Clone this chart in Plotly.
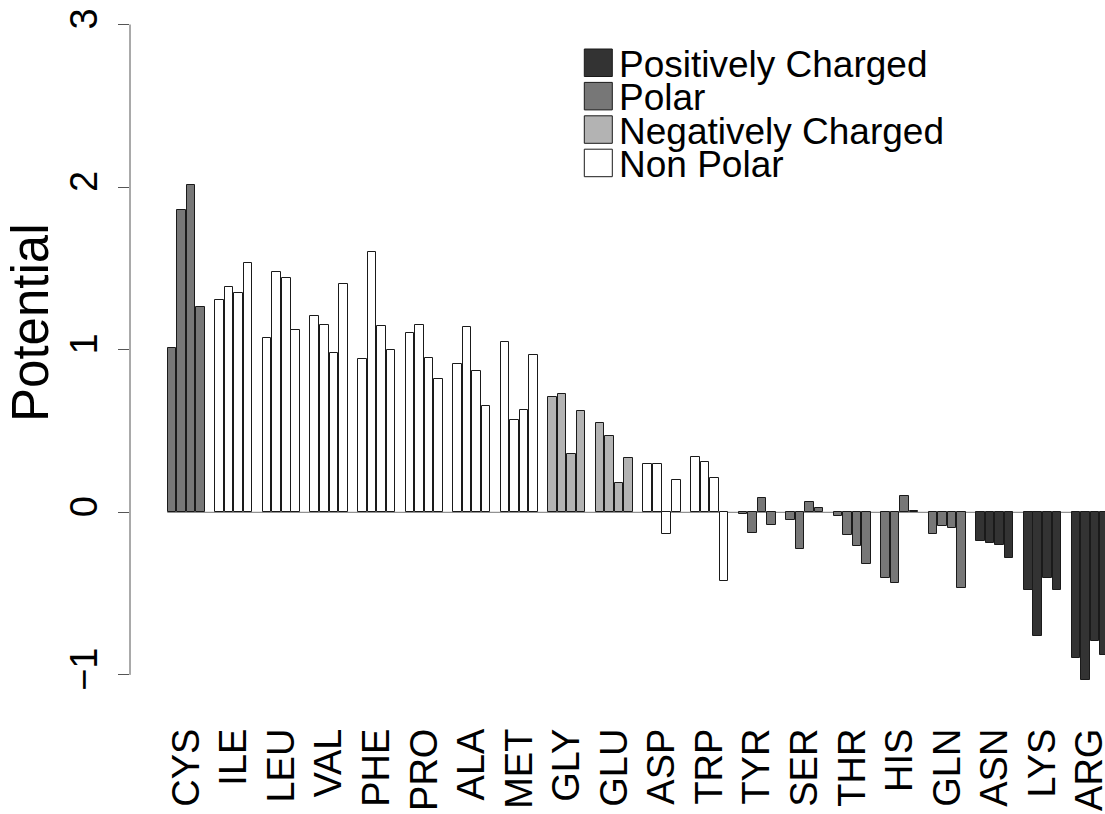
import plotly.graph_objects as go

# Amino-acid groups along the x axis
residues = ["CYS", "ILE", "LEU", "VAL", "PHE", "PRO", "ALA", "MET", "GLY", "GLU",
            "ASP", "TRP", "TYR", "SER", "THR", "HIS", "GLN", "ASN", "LYS", "ARG"]

# Residue class used for the fill of each group
residue_class = ["Polar", "Non Polar", "Non Polar", "Non Polar", "Non Polar",
                 "Non Polar", "Non Polar", "Non Polar", "Negatively Charged",
                 "Negatively Charged", "Non Polar", "Non Polar", "Polar", "Polar",
                 "Polar", "Polar", "Polar", "Positively Charged",
                 "Positively Charged", "Positively Charged"]

# Four potential values per residue (one list per bar position in a group)
potential_1 = [1.013, 1.305, 1.073, 1.208, 0.943, 1.100, 0.913, 1.050, 0.710, 0.548,
               0.297, 0.338, -0.010, -0.049, -0.025, -0.406, -0.131, -0.176, -0.476, -0.894]
potential_2 = [1.860, 1.383, 1.477, 1.155, 1.602, 1.149, 1.141, 0.568, 0.730, 0.470,
               0.295, 0.312, -0.125, -0.226, -0.138, -0.437, -0.086, -0.187, -0.761, -1.034]
potential_3 = [2.012, 1.348, 1.442, 0.977, 1.143, 0.950, 0.868, 0.632, 0.357, 0.183,
               -0.135, 0.213, 0.090, 0.064, -0.209, 0.098, -0.098, -0.201, -0.406, -0.794]
potential_4 = [1.260, 1.534, 1.124, 1.405, 1.001, 0.817, 0.656, 0.966, 0.620, 0.332,
               0.201, -0.425, -0.078, 0.027, -0.320, 0.008, -0.468, -0.279, -0.480, -0.876]

legend_order = ["Positively Charged", "Polar", "Negatively Charged", "Non Polar"]
class_colors = {"Positively Charged": "#333333", "Polar": "#777777",
                "Negatively Charged": "#b3b3b3", "Non Polar": "#ffffff"}

FONT = "Liberation Sans, Arial, Helvetica, sans-serif"
W, H = 1105, 814
ML, MR, MT, MB = 130, 0, 0, 114
PW, PH = W - ML - MR, H - MT - MB

# Grouped layout: 4 adjacent bars per group, one empty slot between groups
series = [potential_1, potential_2, potential_3, potential_4]
xs, ys, fills = [], [], []
for g, name in enumerate(residues):
    for b, vals in enumerate(series):
        xs.append(1 + 5 * g + b + 0.5)
        ys.append(vals[g])
        fills.append(class_colors[residue_class[g]])
group_centers = [1 + 5 * g + 2 for g in range(len(residues))]

fig = go.Figure()
fig.add_trace(go.Bar(
    x=xs, y=ys, width=0.9,
    marker=dict(color=fills, line=dict(color="#1a1a1a", width=1)),
    showlegend=False, hoverinfo="x+y",
))

shapes = [
    # baseline at zero across the bars
    dict(type="line", xref="x", yref="y", x0=1, x1=101, y0=0, y1=0,
         line=dict(color="#777777", width=1), layer="below"),
    # y axis line spanning the labelled ticks
    dict(type="line", xref="paper", yref="y", x0=0, x1=0, y0=-1, y1=3,
         line=dict(color="#555555", width=1)),
]
annotations = [
    dict(text="Potential", xref="paper", yref="paper",
         x=(30 - ML) / PW, y=(PH - 323) / PH, textangle=-90, showarrow=False,
         xanchor="center", yanchor="middle",
         font=dict(family=FONT, size=51, color="black")),
]

# Legend: filled boxes with labels
box_x0, box_x1 = 584.3, 612.3
row_top, row_h, row_pitch = 49.0, 27.5, 33.4
for i, cls in enumerate(legend_order):
    top = row_top + i * row_pitch
    shapes.append(dict(
        type="rect", xref="paper", yref="paper",
        x0=(box_x0 - ML) / PW, x1=(box_x1 - ML) / PW,
        y0=(PH - top) / PH, y1=(PH - top - row_h) / PH,
        fillcolor=class_colors[cls], line=dict(color="#1a1a1a", width=1)))
    annotations.append(dict(
        text=cls, xref="paper", yref="paper",
        x=(617 - ML) / PW, y=(PH - (top + row_h / 2 + 1.5)) / PH,
        xanchor="left", yanchor="middle", showarrow=False,
        font=dict(family=FONT, size=37, color="black")))

fig.update_layout(
    width=W, height=H,
    margin=dict(l=ML, r=MR, t=MT, b=MB, pad=0, autoexpand=False),
    paper_bgcolor="white", plot_bgcolor="white",
    font=dict(family=FONT, color="black"),
    bargap=0,
    shapes=shapes, annotations=annotations,
    xaxis=dict(range=[-2.922, 99.569], showgrid=False, zeroline=False,
               showline=False, tickmode="array", tickvals=group_centers,
               ticktext=residues, tickangle=-90, ticks="", automargin=False,
               ticklabelstandoff=20, ticklabeloverflow="allow",
               tickfont=dict(family=FONT, size=38, color="black")),
    yaxis=dict(range=[-1.1544, 3.1507], showgrid=False, zeroline=False,
               showline=False, tickmode="array", tickvals=[-1, 0, 1, 2, 3],
               ticktext=["\u22121", "0", "1", "2", "3"], tickangle=-90,
               ticks="outside", ticklen=11, tickwidth=1, tickcolor="#555555",
               automargin=False, ticklabelstandoff=6, ticklabeloverflow="allow",
               tickfont=dict(family=FONT, size=38, color="black")),
)

fig.write_html("out.html")
